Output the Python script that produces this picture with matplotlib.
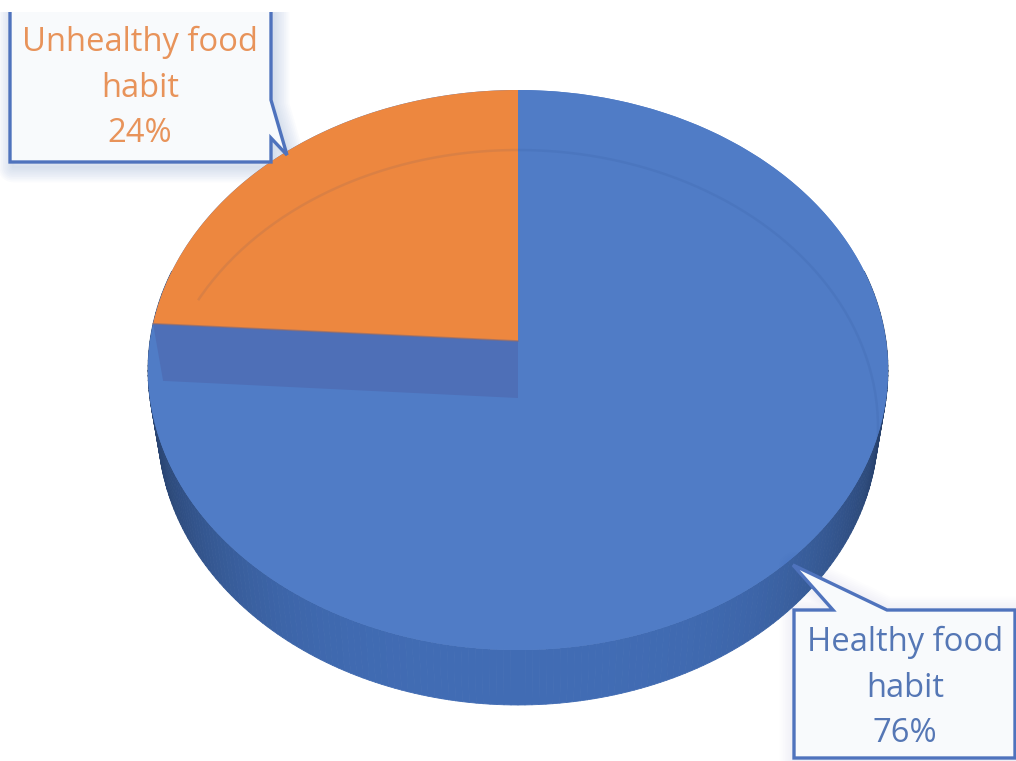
import numpy as np
import matplotlib
matplotlib.use("Agg")
import matplotlib.pyplot as plt
from matplotlib.transforms import Transform
from matplotlib.patches import Polygon, Rectangle
from matplotlib.collections import PolyCollection
from matplotlib.colors import to_rgb

categories = ["Unhealthy food\nhabit", "Healthy food\nhabit"]
values = [24, 76]
colors = ["#ED873F", "#507CC6"]
text_colors = ["#E8935A", "#5577B5"]

plt.rcParams['font.family'] = ['Open Sans', 'DejaVu Sans']


class Persp(Transform):
    """Perspective projection of the unit-circle pie plane to pixel axes."""
    input_dims = 2
    output_dims = 2
    is_affine = False
    has_inverse = False

    def __init__(self, cx, apex, top, bottom, half_w):
        super().__init__()
        self.cx = cx
        self.apex = apex
        self.C = (2 * apex - top - bottom) / (top - bottom)
        self.A = top * (1 + self.C) - apex
        self.D = half_w * np.sqrt(1 - self.C ** 2)

    def transform_non_affine(self, values):
        p = np.asarray(values, dtype=float)
        w = 1 + self.C * p[:, 1]
        return np.column_stack([self.cx + self.D * p[:, 0] / w,
                                (self.apex + self.A * p[:, 1]) / w])


fig = plt.figure(figsize=(10.16, 7.61), dpi=100, facecolor="white")
ax = fig.add_axes([0, 0, 1, 1])

top_plane = Persp(518, 341, 90, 650, 370)
base_plane = Persp(518, 398, 150, 705, 360)


def circ(theta):
    return np.column_stack([np.cos(theta), np.sin(theta)])


wedges, _ = ax.pie(values, colors=colors, startangle=90, counterclock=True,
                   wedgeprops=dict(linewidth=0))
ax.set_aspect("auto")
ax.set_xlim(0, 1016)
ax.set_ylim(761, 0)
ax.axis("off")

# side wall
edges = np.radians(np.linspace(165, 375, 211))
c_mid = np.array(to_rgb("#416CB4"))
c_edge = np.array(to_rgb("#263F68"))
polys, cols = [], []
for a, b in zip(edges[:-1], edges[1:]):
    pair = circ(np.array([a, b]))
    t = top_plane.transform_non_affine(pair)
    u = base_plane.transform_non_affine(pair)
    polys.append(np.vstack([t, u[::-1]]))
    k = abs(np.cos((a + b) / 2)) ** 3.5
    cols.append(c_mid * (1 - k) + c_edge * k)
ax.add_collection(PolyCollection(polys, facecolors=cols, edgecolors=cols,
                                 linewidths=0.6, zorder=1))

# full top surface behind the slices
full = np.radians(np.linspace(0, 360, 361))
ax.add_patch(Polygon(top_plane.transform_non_affine(circ(full)), closed=True,
                     fc=colors[1], ec="none", zorder=2))

# inner cut face below the small slice
boundary = np.radians(90 + 360 * values[0] / sum(values))
origin = np.zeros((1, 2))
rim = circ(np.array([boundary]))
face = np.vstack([top_plane.transform_non_affine(rim),
                  top_plane.transform_non_affine(origin),
                  base_plane.transform_non_affine(origin),
                  base_plane.transform_non_affine(rim)])
ax.add_patch(Polygon(face, closed=True, fc="#4E6FB7", ec="none", zorder=3))

# slice on top
for w, z in zip(wedges, [5, 2.5]):
    w.set_transform(top_plane + ax.transData)
    w.set_zorder(z)
    w.set_clip_on(False)

# faint rim of the far circle
arc = np.radians(np.linspace(-12, 158, 171))
bx = base_plane.transform_non_affine(circ(arc))
ax.plot(bx[:, 0], bx[:, 1], color="#1F3F7A", alpha=0.09, lw=1.8, zorder=6)

# soft edge along the slice cut
ek = np.vstack([top_plane.transform_non_affine(rim),
                top_plane.transform_non_affine(origin)])
ax.plot(ek[:, 0], ek[:, 1], color="#8A6A70", lw=1.2, alpha=0.6, zorder=6)


def callout(pts, clip=None, shadow=(3, 5), strength=0.022):
    pts = np.asarray(pts, dtype=float)
    for lw in np.linspace(2, 22, 9):
        s = Polygon(pts + np.array(shadow), closed=True, fc="none",
                    ec="#4472C4", lw=lw, alpha=strength, zorder=4.5, joinstyle="round")
        ax.add_patch(s)
        if clip is not None:
            s.set_clip_path(Rectangle(clip[:2], clip[2], clip[3], transform=ax.transData))
    face = Polygon(pts, closed=True, fc="#F8FAFC", ec="#4F73BD", lw=2.4,
                   zorder=8, joinstyle="miter")
    ax.add_patch(face)
    if clip is not None:
        face.set_clip_path(Rectangle(clip[:2], clip[2], clip[3], transform=ax.transData))


# upper-left callout: its top edge is cut off by the picture
callout([(10, -10), (10, 162), (271, 162), (271, 138), (287, 155), (271, 100), (271, -10)],
        clip=(0, 12, 1016, 749))
# lower-right callout: runs to the picture edge
callout([(794, 610), (833, 610), (793, 565), (887, 610), (1015, 610), (1015, 758), (794, 758)],
        shadow=(1, 2), strength=0.008)

label_xy = [(140, 88), (905, 688)]
for name, v, c, (x, y) in zip(categories, values, text_colors, label_xy):
    ax.text(x, y, f"{name}\n{v}%", color=c, fontsize=23.6, ha="center", va="center",
            linespacing=1.49, zorder=9)

fig.savefig("out.png", dpi=100)
